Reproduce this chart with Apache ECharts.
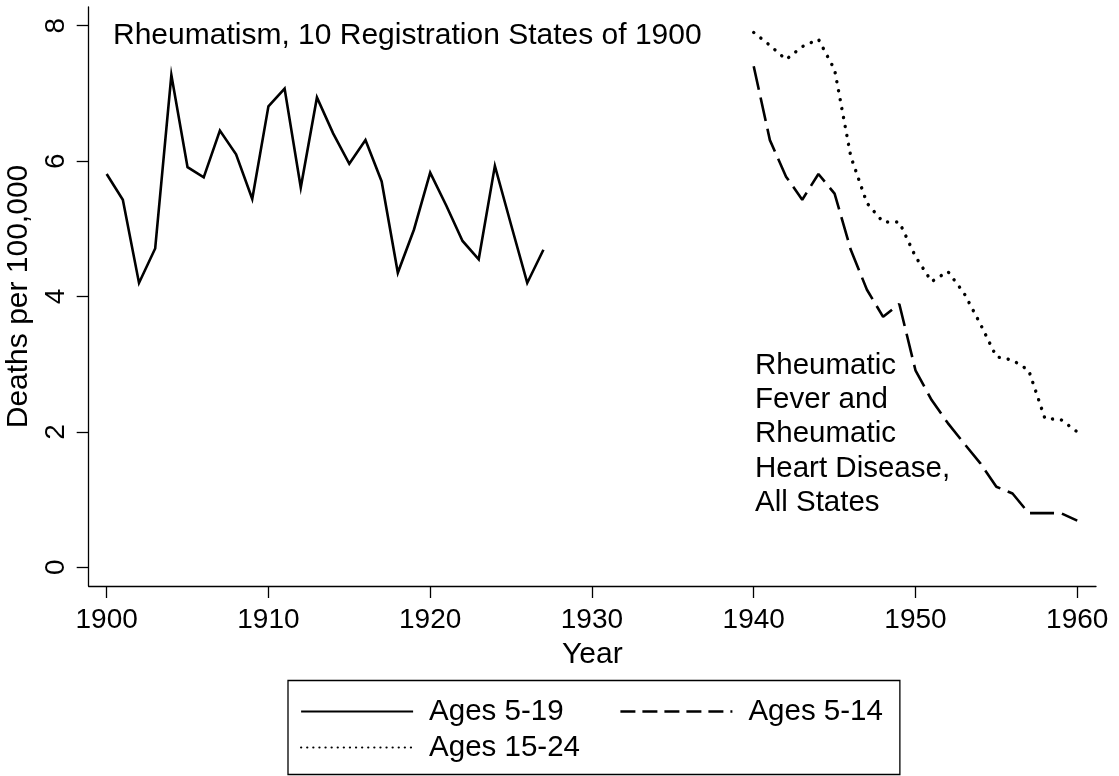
<!DOCTYPE html>
<html>
<head>
<meta charset="utf-8">
<script src="https://cdn.jsdelivr.net/npm/echarts@6/dist/echarts.min.js"></script>
<style>
  html, body { margin: 0; padding: 0; background: #fff; }
  #chart { width: 1119px; height: 776px; }
</style>
</head>
<body>
<div id="chart"></div>
<script>
// Rheumatism, 10 registration states 1900-1927
const yearsEarly = [1900, 1901, 1902, 1903, 1904, 1905, 1906, 1907, 1908, 1909,
  1910, 1911, 1912, 1913, 1914, 1915, 1916, 1917, 1918, 1919,
  1920, 1921, 1922, 1923, 1924, 1925, 1926, 1927];
const ages5to19 = [5.81, 5.43, 4.20, 4.71, 7.27, 5.91, 5.76, 6.45, 6.10, 5.44,
  6.81, 7.07, 5.61, 6.94, 6.41, 5.96, 6.31, 5.70, 4.35, 4.99,
  5.83, 5.34, 4.82, 4.55, 5.93, 5.06, 4.20, 4.69];

// Rheumatic fever and rheumatic heart disease, all states 1940-1960
const yearsLate = [1940, 1941, 1942, 1943, 1944, 1945, 1946, 1947, 1948, 1949,
  1950, 1951, 1952, 1953, 1954, 1955, 1956, 1957, 1958, 1959, 1960];
const ages5to14 = [7.40, 6.31, 5.77, 5.43, 5.81, 5.52, 4.69, 4.10, 3.70, 3.89,
  2.91, 2.47, 2.13, 1.83, 1.54, 1.19, 1.09, 0.80, 0.80, 0.80, 0.69];
const ages15to24 = [7.90, 7.71, 7.50, 7.69, 7.80, 7.35, 6.07, 5.38, 5.10, 5.10,
  4.59, 4.22, 4.37, 4.05, 3.60, 3.11, 3.06, 2.91, 2.20, 2.18, 2.00];

const xTicks = [1900, 1910, 1920, 1930, 1940, 1950, 1960];
const yTicks = [0, 2, 4, 6, 8];

const FONT = "Liberation Sans";
const FS = 30;      // titles, axis names
const FS_TICK = 28; // tick labels
const FS_TXT = 29.5; // legend, annotation

const pairs = (xs, ys) => xs.map((x, i) => [x, ys[i]]);

const chart = echarts.init(document.getElementById("chart"), null, { renderer: "canvas" });

const option = {
  animation: false,
  backgroundColor: "#fff",
  textStyle: { fontFamily: FONT, color: "#000" },
  title: [
    {
      text: "Rheumatism, 10 Registration States of 1900",
      left: 113, top: 19, padding: 0,
      textStyle: { fontFamily: FONT, fontSize: FS, fontWeight: "normal", color: "#000", lineHeight: 34 }
    },
    {
      text: "Rheumatic\nFever and\nRheumatic\nHeart Disease,\nAll States",
      left: 755, top: 348.5, padding: 0,
      textStyle: { fontFamily: FONT, fontSize: FS_TXT, fontWeight: "normal", color: "#000", lineHeight: 34.3 }
    }
  ],
  grid: { left: 88.7, right: 23, top: 7, bottom: 190, containLabel: false, outerBoundsMode: "none" },
  xAxis: {
    type: "value",
    min: 1898.89, max: 1961.16,
    name: "Year", nameLocation: "middle", nameGap: 48,
    nameTextStyle: { fontFamily: FONT, fontSize: FS, color: "#000", lineHeight: 29 },
    axisLine: { show: true, onZero: false, lineStyle: { color: "#000", width: 1.3 } },
    axisTick: { show: true, length: 12, lineStyle: { color: "#000", width: 1.3 }, customValues: xTicks },
    axisLabel: {
      fontFamily: FONT, fontSize: FS_TICK, color: "#000", margin: 20, lineHeight: 29,
      customValues: xTicks, formatter: v => String(v)
    },
    splitLine: { show: false }
  },
  yAxis: {
    type: "value",
    min: -0.276, max: 8.276,
    name: "Deaths per 100,000", nameLocation: "middle", nameGap: 44,
    nameTextStyle: { fontFamily: FONT, fontSize: FS, color: "#000", lineHeight: 29 },
    axisLine: { show: true, onZero: false, lineStyle: { color: "#000", width: 1.3 } },
    axisTick: { show: true, length: 12, lineStyle: { color: "#000", width: 1.3 }, customValues: yTicks },
    axisLabel: { fontFamily: FONT, fontSize: FS_TICK, color: "#000", margin: 18, rotate: 90, lineHeight: 29, customValues: yTicks },
    splitLine: { show: false }
  },
  legend: {
    left: 288, top: 680.5, width: 600,
    orient: "horizontal",
    padding: [13, 17, 9, 12],
    itemGap: 0,
    itemWidth: 112, itemHeight: 14,
    borderColor: "#000", borderWidth: 1.3,
    selectedMode: false,
    itemStyle: { opacity: 0 },
    textStyle: { fontFamily: FONT, fontSize: FS_TXT, color: "#000", lineHeight: 36, padding: [0, 0, 0, 11] },
    data: [
      { name: "Ages 5-19", textStyle: { width: 190 } },
      { name: "Ages 5-14", textStyle: { width: 132 }, lineStyle: { width: 2.6, type: [15, 7] } },
      { name: "Ages 15-24", textStyle: { width: 190 }, lineStyle: { width: 2.2, type: [0.1, 6], cap: "round" } }
    ]
  },
  series: [
    {
      name: "Ages 5-19", type: "line", symbol: "none",
      data: pairs(yearsEarly, ages5to19),
      lineStyle: { color: "#000", width: 2.6, type: "solid", join: "miter" },
      itemStyle: { color: "#000" }
    },
    {
      name: "Ages 5-14", type: "line", symbol: "none",
      data: pairs(yearsLate, ages5to14),
      lineStyle: { color: "#000", width: 2.6, type: [24, 8] },
      itemStyle: { color: "#000" }
    },
    {
      name: "Ages 15-24", type: "line", symbol: "none",
      data: pairs(yearsLate, ages15to24),
      lineStyle: { color: "#000", width: 3.4, type: [0.1, 9], cap: "round" },
      itemStyle: { color: "#000" }
    }
  ]
};

chart.setOption(option);
</script>
</body>
</html>
